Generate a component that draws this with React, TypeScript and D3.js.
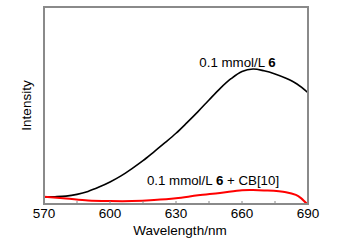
import React from "react";
import * as d3 from "d3";

const wavelengths = [570, 575, 580, 585, 590, 595, 600, 605, 610, 615, 620, 625, 630, 635, 640, 645, 650, 655, 660, 665, 670, 675, 680, 685, 690];
const freeDye = [3.6, 3.7, 4.0, 4.9, 6.4, 8.6, 11.2, 14.3, 18.0, 22.0, 26.5, 31.1, 35.9, 41.3, 46.9, 52.8, 58.6, 63.6, 67.3, 68.5, 67.6, 66.0, 63.8, 60.9, 56.5];
const complexWl = [570, 580, 590, 600, 610, 620, 630, 640, 650, 660, 665, 670, 680, 684.5, 686.8, 689.1, 690];
const complexDye = [3.7, 2.8, 1.8, 1.5, 1.5, 2.0, 2.9, 4.4, 5.6, 7.0, 7.1, 6.9, 6.0, 4.6, 3.0, 0.6, 0];
const xTicks = [570, 600, 630, 660, 690];
const minorTicks = [585, 600, 615, 630, 645, 660, 675];

const W = 339;
const H = 251;
const L = 44, R = 308, T = 7, B = 204;

export default function App() {
  const x = d3.scaleLinear().domain([570, 690]).range([L, R]);
  const y = d3.scaleLinear().domain([0, 100]).range([B, T]);
  const line = d3
    .line<[number, number]>()
    .x((d) => x(d[0]))
    .y((d) => y(d[1]))
    .curve(d3.curveCatmullRom.alpha(0.5));
  const black = line(wavelengths.map((w, i) => [w, freeDye[i]] as [number, number])) || "";
  const red = line(complexWl.map((w, i) => [w, complexDye[i]] as [number, number])) || "";
  const font = "'Liberation Sans', Arial, sans-serif";
  return (
    <svg
      width={W}
      height={H}
      style={{ position: "absolute", left: 0, top: 0, background: "#fff" }}
      fontFamily={font}
    >
      <defs>
        <clipPath id="plot">
          <rect x={L} y={T} width={R - L} height={B - T} />
        </clipPath>
      </defs>
      <g clipPath="url(#plot)">
        <path d={black} fill="none" stroke="#000" strokeWidth={1.6} />
        <path d={red} fill="none" stroke="#f00" strokeWidth={2} />
      </g>
      {minorTicks.map((t) => (
        <line key={t} x1={x(t)} x2={x(t)} y1={B} y2={B - 3} stroke="#888" strokeWidth={1} />
      ))}
      <rect x={L} y={T} width={R - L} height={B - T} fill="none" stroke="#8a8a8a" strokeWidth={2} />
      {xTicks.map((t) => (
        <text key={t} x={x(t)} y={218} textAnchor="middle" fontSize={13.5} fill="#000">
          {t}
        </text>
      ))}
      <text x={180} y={235} textAnchor="middle" fontSize={13.5} fill="#000">
        Wavelength/nm
      </text>
      <text
        transform={`translate(31,${(T + B) / 2}) rotate(-90)`}
        textAnchor="middle"
        fontSize={13.5}
        fill="#000"
      >
        Intensity
      </text>
      <text x={237.5} y={67} textAnchor="middle" fontSize={13.3} fill="#000">
        0.1 mmol/L <tspan fontWeight="bold">6</tspan>
      </text>
      <text x={213} y={185} textAnchor="middle" fontSize={13.3} fill="#000">
        0.1 mmol/L <tspan fontWeight="bold">6</tspan> + CB[10]
      </text>
    </svg>
  );
}
